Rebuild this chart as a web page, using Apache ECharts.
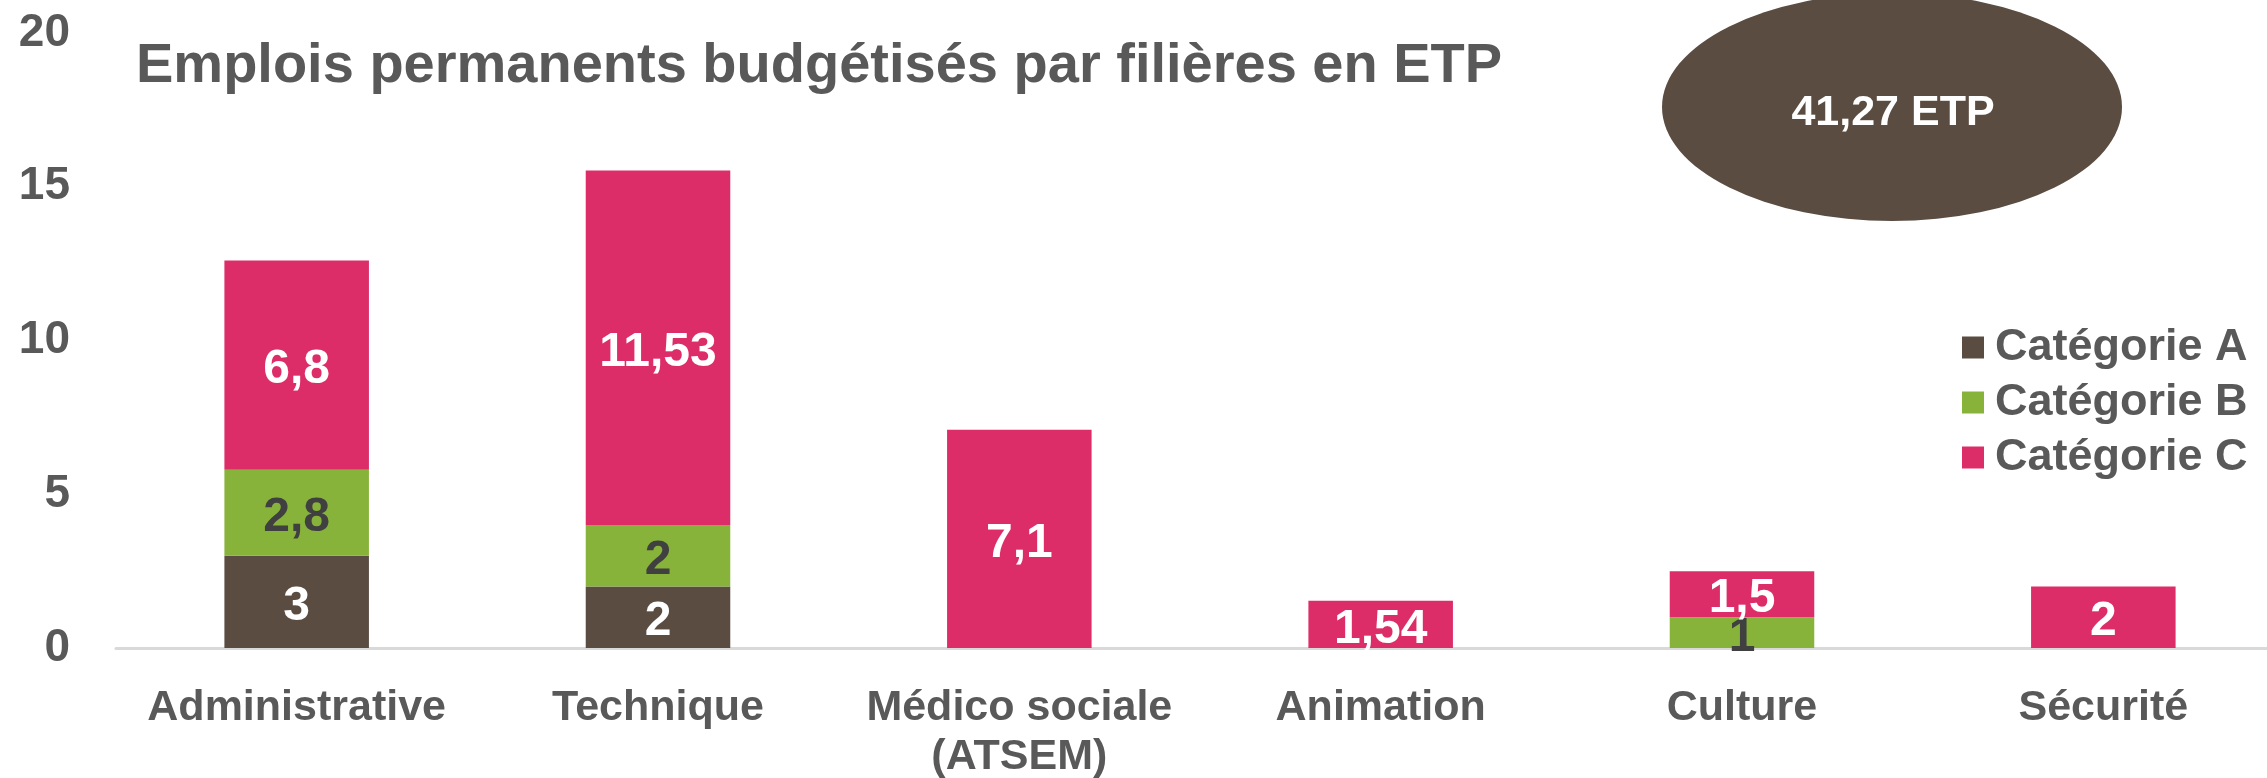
<!DOCTYPE html>
<html>
<head>
<meta charset="utf-8">
<script src="https://cdn.jsdelivr.net/npm/echarts@6/dist/echarts.min.js"></script>
<style>
  html, body { margin: 0; padding: 0; background: #fff; }
  #chart { width: 2267px; height: 778px; }
</style>
</head>
<body>
<div id="chart"></div>
<script>
// filières
var categories = ['Administrative', 'Technique', 'Médico sociale\n(ATSEM)', 'Animation', 'Culture', 'Sécurité'];
// ETP par catégorie
var catA = [3, 2, null, null, null, null];
var catB = [2.8, 2, null, null, 1, null];
var catC = [6.8, 11.53, 7.1, 1.54, 1.5, 2];
var yTicks = [0, 5, 10, 15, 20];
var totalText = '41,27 ETP';

var font = '"Liberation Sans", Arial, sans-serif';
var grey = '#595959';
var colors = ['#5a4c41', '#87b33b', '#dd2d69'];

function fmt(p) {
  return String(p.value).replace('.', ',');
}

function makeSeries(name, data, color, labelColor) {
  return {
    name: name,
    type: 'bar',
    stack: 'total',
    barWidth: '40%',
    data: data,
    itemStyle: { color: color },
    label: {
      show: true,
      position: 'inside',
      offset: [0, 5],
      formatter: fmt,
      color: labelColor,
      fontFamily: font,
      fontWeight: 'bold',
      fontSize: 48
    }
  };
}

var myChart = echarts.init(document.getElementById('chart'));
myChart.setOption({
  animation: false,
  title: {
    text: 'Emplois permanents budgétisés par filières en ETP',
    left: 131,
    top: 34,
    textStyle: { color: grey, fontFamily: font, fontWeight: 'bold', fontSize: 56 }
  },
  legend: {
    orient: 'vertical',
    left: 1957,
    top: 320,
    itemWidth: 22,
    itemHeight: 22,
    itemGap: 10,
    icon: 'rect',
    textStyle: { color: grey, fontFamily: font, fontWeight: 'bold', fontSize: 45, padding: [0, 0, 0, 6] },
    data: ['Catégorie A', 'Catégorie B', 'Catégorie C']
  },
  // the last band runs a little past the right edge, as in the original
  grid: { left: 116, top: 33, right: -17, bottom: 130, containLabel: false, outerBoundsMode: 'none' },
  xAxis: {
    type: 'category',
    data: categories,
    axisTick: { show: false },
    axisLine: { lineStyle: { color: '#d9d9d9', width: 3 } },
    axisLabel: {
      color: grey, fontFamily: font, fontWeight: 'bold', fontSize: 43,
      margin: 36, lineHeight: 49, interval: 0
    }
  },
  yAxis: {
    type: 'value',
    min: yTicks[0],
    max: yTicks[yTicks.length - 1],
    interval: 5,
    splitLine: { show: false },
    axisLine: { show: false },
    axisTick: { show: false },
    axisLabel: { color: grey, fontFamily: font, fontWeight: 'bold', fontSize: 46, margin: 46 }
  },
  graphic: [
    {
      type: 'circle',
      x: 1892, y: 107,
      scaleX: 230 / 114,
      shape: { cx: 0, cy: 0, r: 114 },
      style: { fill: '#5a4c41' },
      z: 10
    },
    {
      type: 'text',
      x: 1893, y: 113,
      style: {
        text: totalText, fill: '#fff', font: 'bold 43px ' + font,
        textAlign: 'center', textVerticalAlign: 'middle'
      },
      z: 11
    }
  ],
  series: [
    makeSeries('Catégorie A', catA, colors[0], '#fff'),
    makeSeries('Catégorie B', catB, colors[1], '#404040'),
    makeSeries('Catégorie C', catC, colors[2], '#fff')
  ]
});
</script>
</body>
</html>
